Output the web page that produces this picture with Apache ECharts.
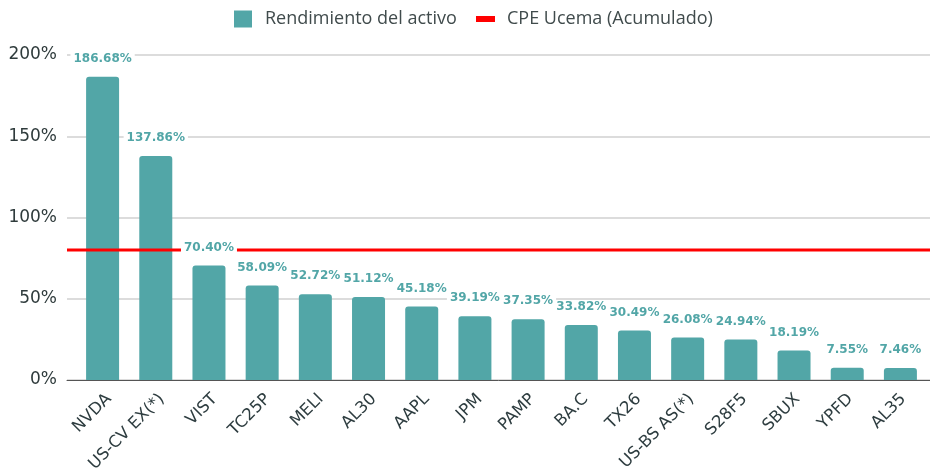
<!DOCTYPE html>
<html>
<head>
<meta charset="utf-8">
<script src="https://cdn.jsdelivr.net/npm/echarts@6/dist/echarts.min.js"></script>
<style>
  html, body { margin: 0; padding: 0; background: #fff; }
  #chart { width: 930px; height: 475px; }
</style>
</head>
<body>
<div id="chart"></div>
<script>
// 数据
const categories = ['NVDA', 'US-CV EX(*)', 'VIST', 'TC25P', 'MELI', 'AL30', 'AAPL', 'JPM',
    'PAMP', 'BA.C', 'TX26', 'US-BS AS(*)', 'S28F5', 'SBUX', 'YPFD', 'AL35'];
const rendimiento = [186.68, 137.86, 70.40, 58.09, 52.72, 51.12, 45.18, 39.19,
    37.35, 33.82, 30.49, 26.08, 24.94, 18.19, 7.55, 7.46];
const cpeUcema = 80;
const yTicks = [0, 50, 100, 150, 200];

const teal = '#52a6a7';
const red = '#ff0000';
const legendText = { fontFamily: 'Open Sans', fontSize: 18, color: '#404b4c' };

const chart = echarts.init(document.getElementById('chart'));

const option = {
    animation: false,
    legend: [{
        data: ['Rendimiento del activo'],
        left: 229, top: 5,
        icon: 'rect', itemWidth: 18, itemHeight: 17,
        textStyle: Object.assign({ padding: [0, 0, 0, 8] }, legendText)
    }, {
        data: ['CPE Ucema (Acumulado)'],
        left: 471, top: 5,
        icon: 'rect', itemWidth: 19, itemHeight: 6,
        textStyle: Object.assign({ padding: [0, 0, 0, 7] }, legendText)
    }],
    grid: [
        { left: 76, right: 3, top: 55, bottom: 95 },     // 柱子
        { left: 67, right: 0, top: 55, bottom: 95 },     // 网格线 + CPE线
        { left: 82.5, width: 851, top: 55, bottom: 95 }  // 类目标签
    ],
    xAxis: [{
        type: 'category', gridIndex: 0, data: categories,
        axisLine: { show: false }, axisTick: { show: false }, axisLabel: { show: false }
    }, {
        type: 'value', gridIndex: 1, min: 0, max: 1,
        axisLine: { show: true, lineStyle: { color: '#555', width: 1 } },
        axisTick: { show: false }, axisLabel: { show: false }, splitLine: { show: false }
    }, {
        type: 'category', gridIndex: 2, data: categories,
        axisLine: { show: false }, axisTick: { show: false },
        axisLabel: {
            rotate: 45, margin: 19, interval: 0,
            fontFamily: 'DejaVu Sans', fontSize: 16.5, color: '#2e3d40'
        }
    }],
    yAxis: [{
        type: 'value', gridIndex: 0, min: 0, max: 200, show: false
    }, {
        type: 'value', gridIndex: 1, min: yTicks[0], max: yTicks[yTicks.length - 1], interval: 50,
        axisLine: { show: false }, axisTick: { show: false },
        axisLabel: {
            formatter: '{value}%', margin: 10,
            fontFamily: 'DejaVu Sans', fontSize: 17, color: '#2f3b3c'
        },
        splitLine: { lineStyle: { color: '#d0d0d0', width: 1.5 } }
    }, {
        type: 'value', gridIndex: 2, min: 0, max: 200, show: false
    }],
    series: [{
        name: 'Rendimiento del activo',
        type: 'bar', xAxisIndex: 0, yAxisIndex: 0,
        data: rendimiento,
        barWidth: 33, barGap: '-100%',
        itemStyle: { color: teal, borderRadius: [3, 3, 0, 0] },
        z: 2
    }, {
        name: 'CPE Ucema (Acumulado)',
        type: 'line', xAxisIndex: 1, yAxisIndex: 1,
        data: [[0, cpeUcema], [1, cpeUcema]],
        symbol: 'none',
        itemStyle: { color: red },
        lineStyle: { color: red, width: 3 },
        z: 3
    }, {
        // 标签层，放在红线之上
        name: 'etiquetas',
        type: 'bar', xAxisIndex: 0, yAxisIndex: 0,
        data: rendimiento,
        barWidth: 33, barGap: '-100%',
        itemStyle: { color: 'rgba(0,0,0,0)' },
        label: {
            show: true, position: 'top', distance: 11,
            formatter: p => p.value.toFixed(2) + '%',
            fontFamily: 'DejaVu Sans', fontSize: 12, fontWeight: 'bold', color: teal,
            backgroundColor: '#fff', padding: [1, 3]
        },
        z: 4
    }]
};

chart.setOption(option);
</script>
</body>
</html>
